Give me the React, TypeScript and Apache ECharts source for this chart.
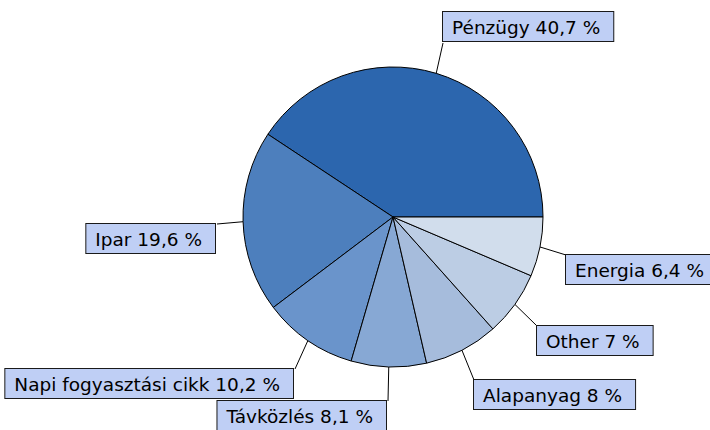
import React, { useEffect, useRef } from "react";
import * as echarts from "echarts";

const categories = [
  "Pénzügy",
  "Ipar",
  "Napi fogyasztási cikk",
  "Távközlés",
  "Alapanyag",
  "Other",
  "Energia",
];
const shares = [40.7, 19.6, 10.2, 8.1, 8, 7, 6.4];

const sliceColors = ["#2c66ae", "#4d7fbd", "#6a94cb", "#87a8d4", "#a6bcdc", "#bccde4", "#d1ddec"];

// label box anchor corner (where the leader line meets the box) and which corner it is
const labelAnchors: [number, number, string][] = [
  [443, 43, "bl"],
  [217, 224, "tr"],
  [295, 369, "tr"],
  [388, 401, "tr"],
  [474, 380, "tl"],
  [537, 326, "tl"],
  [566, 255, "tl"],
];

export default function App() {
  const ref = useRef<HTMLDivElement>(null);
  useEffect(() => {
    if (!ref.current) return;
    const chart = echarts.init(ref.current, null, { renderer: "svg" });
    chart.setOption({
      animation: false,
      backgroundColor: "#ffffff",
      series: [
        {
          type: "pie",
          center: [393, 217],
          radius: 150,
          startAngle: 0,
          clockwise: false,
          avoidLabelOverlap: false,
          silent: true,
          emphasis: { disabled: true },
          itemStyle: { borderColor: "#000", borderWidth: 1 },
          label: {
            show: true,
            position: "outside",
            formatter: (p: any) => `${p.name} ${String(p.value).replace(".", ",")} %`,
            fontFamily: "DejaVu Sans",
            fontSize: 18.5,
            lineHeight: 20,
            color: "#000",
            backgroundColor: "#bfcff5",
            borderColor: "#1a1a1a",
            borderWidth: 1,
            padding: [5, 13, 4, 9],
          },
          labelLine: {
            show: true,
            length: 10,
            length2: 10,
            lineStyle: { color: "#000", width: 1 },
          },
          labelLayout: (params: any) => {
            const a = labelAnchors[params.dataIndex];
            const w = params.labelRect.width;
            const h = params.labelRect.height;
            const [ax, ay, corner] = a;
            const x = corner[1] === "l" ? ax : ax - w;
            const y = corner[0] === "t" ? ay : ay - h;
            const p0 = params.labelLinePoints ? params.labelLinePoints[0] : [ax, ay];
            return {
              x,
              y,
              align: "left",
              verticalAlign: "top",
              labelLinePoints: [
                [p0[0], p0[1]],
                [ax, ay],
                [ax, ay],
              ],
            };
          },
          data: categories.map((name, i) => ({
            name,
            value: shares[i],
            itemStyle: { color: sliceColors[i] },
          })),
        },
      ],
    });
    return () => chart.dispose();
  }, []);
  return (
    <div
      ref={ref}
      style={{ position: "fixed", left: 0, top: 0, width: 710, height: 430 }}
    />
  );
}
